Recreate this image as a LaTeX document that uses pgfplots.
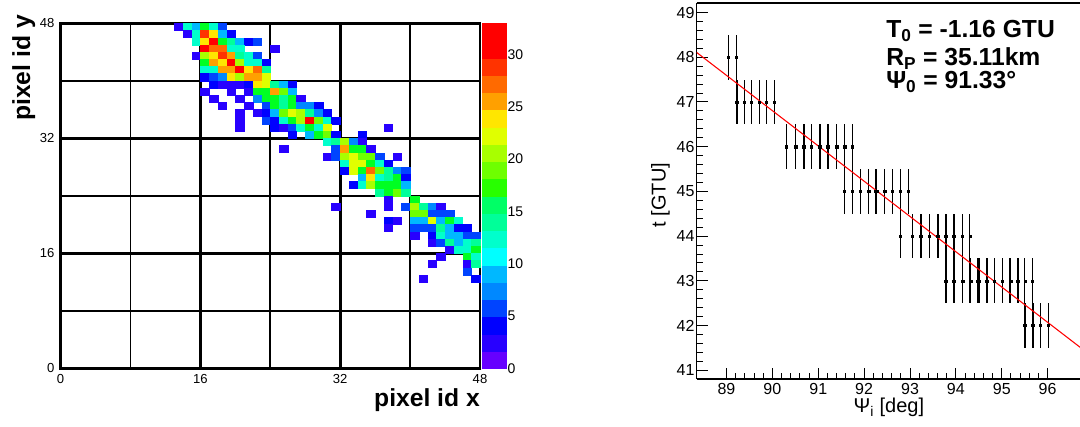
\documentclass[border=0pt]{standalone}
\usepackage{pgfplots}
\pgfplotsset{compat=1.18}
\usepackage{pgfplotstable}
\usepackage{fontspec}
\setmainfont{Liberation Sans}
\setsansfont{Liberation Sans}

\pgfplotsset{
  colormap={rootpal}{
    rgb255=(102,0,255) rgb255=(40,0,255) rgb255=(0,0,255) rgb255=(0,68,255)
    rgb255=(0,136,255) rgb255=(0,184,255) rgb255=(0,255,255) rgb255=(0,255,204)
    rgb255=(0,255,153) rgb255=(0,255,102) rgb255=(0,255,34) rgb255=(40,255,0)
    rgb255=(110,255,0) rgb255=(168,255,0) rgb255=(224,255,0) rgb255=(255,230,0)
    rgb255=(255,160,0) rgb255=(255,106,0) rgb255=(255,51,0) rgb255=(255,0,0)
    rgb255=(255,0,0)
  },
}

% pixel map: x y counts
\pgfplotstableread{
x y c
13.5 47.5 2
14.5 47.5 11
15.5 47.5 9
16.5 47.5 16
17.5 47.5 12
18.5 47.5 6
14.5 46.5 2
15.5 46.5 12
16.5 46.5 29
17.5 46.5 24
18.5 46.5 9
19.5 46.5 4
15.5 45.5 12
16.5 45.5 24
17.5 45.5 32
18.5 45.5 17
19.5 45.5 14
20.5 45.5 9
21.5 45.5 4
22.5 45.5 6
16.5 44.5 31
17.5 44.5 27
18.5 44.5 27
19.5 44.5 12
20.5 44.5 11
24.5 44.5 2
15.5 43.5 2
16.5 43.5 21
17.5 43.5 24
18.5 43.5 29
19.5 43.5 26
20.5 43.5 14
21.5 43.5 12
22.5 43.5 6
16.5 42.5 17
17.5 42.5 26
18.5 42.5 24
19.5 42.5 31
20.5 42.5 21
21.5 42.5 11
22.5 42.5 11
23.5 42.5 4
16.5 41.5 12
17.5 41.5 11
18.5 41.5 26
19.5 41.5 26
20.5 41.5 32
21.5 41.5 24
22.5 41.5 27
23.5 41.5 14
16.5 40.5 4
17.5 40.5 6
18.5 40.5 7
19.5 40.5 24
20.5 40.5 21
21.5 40.5 26
22.5 40.5 26
23.5 40.5 22
17.5 39.5 4
18.5 39.5 2
19.5 39.5 2
20.5 39.5 2
21.5 39.5 4
22.5 39.5 24
23.5 39.5 22
24.5 39.5 14
25.5 39.5 9
26.5 39.5 4
16.5 38.5 2
19.5 38.5 2
21.5 38.5 2
22.5 38.5 16
23.5 38.5 17
24.5 38.5 26
25.5 38.5 19
26.5 38.5 9
17.5 37.5 2
20.5 37.5 2
22.5 37.5 7
23.5 37.5 16
24.5 37.5 17
25.5 37.5 14
26.5 37.5 17
27.5 37.5 2
18.5 36.5 2
21.5 36.5 2
23.5 36.5 6
24.5 36.5 17
25.5 36.5 14
26.5 36.5 17
27.5 36.5 7
28.5 36.5 7
29.5 36.5 4
20.5 35.5 2
22.5 35.5 2
23.5 35.5 4
24.5 35.5 9
25.5 35.5 19
26.5 35.5 22
27.5 35.5 21
28.5 35.5 14
29.5 35.5 7
30.5 35.5 4
20.5 34.5 2
23.5 34.5 6
24.5 34.5 4
25.5 34.5 11
26.5 34.5 16
27.5 34.5 21
28.5 34.5 31
29.5 34.5 19
30.5 34.5 12
31.5 34.5 4
20.5 33.5 2
24.5 33.5 4
25.5 33.5 2
26.5 33.5 6
27.5 33.5 12
28.5 33.5 17
29.5 33.5 11
30.5 33.5 22
37.5 33.5 2
26.5 32.5 4
28.5 32.5 9
29.5 32.5 17
30.5 32.5 19
31.5 32.5 4
34.5 32.5 4
30.5 31.5 11
31.5 31.5 14
32.5 31.5 21
33.5 31.5 7
34.5 31.5 2
25.5 30.5 2
31.5 30.5 6
32.5 30.5 26
33.5 30.5 16
34.5 30.5 16
35.5 30.5 2
30.5 29.5 2
31.5 29.5 6
32.5 29.5 21
33.5 29.5 22
34.5 29.5 19
35.5 29.5 19
36.5 29.5 6
38.5 29.5 2
32.5 28.5 12
33.5 28.5 22
34.5 28.5 22
35.5 28.5 17
36.5 28.5 11
37.5 28.5 4
32.5 27.5 4
33.5 27.5 22
34.5 27.5 17
35.5 27.5 27
36.5 27.5 19
37.5 27.5 14
38.5 27.5 7
39.5 27.5 6
34.5 26.5 9
35.5 26.5 24
36.5 26.5 12
37.5 26.5 14
38.5 26.5 17
39.5 26.5 4
33.5 25.5 4
34.5 25.5 11
35.5 25.5 21
36.5 25.5 17
37.5 25.5 17
38.5 25.5 17
39.5 25.5 9
36.5 24.5 14
37.5 24.5 17
38.5 24.5 19
39.5 24.5 14
37.5 23.5 2
40.5 23.5 16
31.5 22.5 2
37.5 22.5 2
39.5 22.5 6
40.5 22.5 21
41.5 22.5 14
42.5 22.5 7
43.5 22.5 2
35.5 21.5 2
40.5 21.5 19
41.5 21.5 19
42.5 21.5 6
43.5 21.5 6
44.5 21.5 6
37.5 20.5 4
38.5 20.5 2
40.5 20.5 9
41.5 20.5 9
42.5 20.5 22
43.5 20.5 9
44.5 20.5 17
45.5 20.5 12
37.5 19.5 2
40.5 19.5 6
41.5 19.5 6
42.5 19.5 6
43.5 19.5 14
44.5 19.5 9
45.5 19.5 4
46.5 19.5 4
40.5 18.5 2
42.5 18.5 4
43.5 18.5 11
44.5 18.5 9
45.5 18.5 9
46.5 18.5 6
47.5 18.5 6
42.5 17.5 2
43.5 17.5 6
44.5 17.5 14
45.5 17.5 9
46.5 17.5 11
47.5 17.5 14
44.5 16.5 2
45.5 16.5 12
46.5 16.5 11
47.5 16.5 17
43.5 15.5 2
46.5 15.5 16
47.5 15.5 12
42.5 14.5 2
46.5 14.5 2
47.5 14.5 14
46.5 13.5 6
41.5 12.5 2
47.5 12.5 4
}\heat

% time vs angle points
\pgfplotstableread{
x y ey
89.047 48 0.5
89.213 48 0.5
89.213 47 0.5
89.231 47 0.5
89.387 47 0.5
89.548 47 0.5
89.708 47 0.5
89.716 47 0.5
89.867 47 0.5
90.041 47 0.5
90.311 46 0.5
90.492 46 0.5
90.510 46 0.5
90.673 46 0.5
90.691 46 0.5
90.847 46 0.5
90.855 46 0.5
91.031 46 0.5
91.039 46 0.5
91.205 46 0.5
91.213 46 0.5
91.386 46 0.5
91.404 46 0.5
91.560 46 0.5
91.578 46 0.5
91.735 46 0.5
91.560 45 0.5
91.568 45 0.5
91.735 45 0.5
91.909 45 0.5
91.917 45 0.5
92.083 45 0.5
92.101 45 0.5
92.240 45 0.5
92.258 45 0.5
92.276 45 0.5
92.432 45 0.5
92.450 45 0.5
92.612 45 0.5
92.620 45 0.5
92.787 45 0.5
92.970 45 0.5
92.781 44 0.5
92.789 44 0.5
93.058 44 0.5
93.232 44 0.5
93.250 44 0.5
93.413 44 0.5
93.421 44 0.5
93.594 44 0.5
93.612 44 0.5
93.777 44 0.5
93.795 44 0.5
93.951 44 0.5
93.969 44 0.5
94.132 44 0.5
94.140 44 0.5
94.306 44 0.5
93.777 43 0.5
93.785 43 0.5
93.951 43 0.5
93.969 43 0.5
94.132 43 0.5
94.150 43 0.5
94.306 43 0.5
94.324 43 0.5
94.469 43 0.5
94.487 43 0.5
94.505 43 0.5
94.662 43 0.5
94.680 43 0.5
94.836 43 0.5
94.844 43 0.5
95.010 43 0.5
95.018 43 0.5
95.178 43 0.5
95.196 43 0.5
95.346 43 0.5
95.354 43 0.5
95.505 43 0.5
95.664 43 0.5
95.490 42 0.5
95.508 42 0.5
95.664 42 0.5
95.682 42 0.5
95.839 42 0.5
95.847 42 0.5
96.022 42 0.5
}\psidata

\begin{document}
\begin{tikzpicture}
\useasboundingbox (0,0) rectangle (810pt,319.5pt);

% ---------------- left: pixel map ----------------
\begin{axis}[
  at={(45.4pt,43.35pt)}, anchor=south west,
  scale only axis, width=314.6pt, height=258.75pt,
  xmin=0, xmax=48, ymin=0, ymax=48,
  clip=false,
  xtick={0,8,...,48}, ytick={0,8,...,48},
  xticklabels={0,,16,,32,,48}, yticklabels={0,,16,,32,,48},
  major tick length=0pt,
  axis line style={draw=none},
  /pgf/number format/assume math mode=true,
  tick label style={font=\fontsize{9.8}{11}\selectfont},
  xticklabel style={yshift=-1pt},
  yticklabel style={xshift=-1pt},
  xlabel={pixel id x}, ylabel={pixel id y},
  xlabel style={at={(axis description cs:1,0)}, anchor=north east, inner sep=0pt, yshift=-14.8pt, font=\fontsize{18.5}{20}\selectfont\bfseries},
  ylabel style={at={(axis description cs:-0.1157,1.024)}, rotate=0, anchor=north east, inner sep=0pt, font=\fontsize{18.5}{20}\selectfont\bfseries},
  colormap name=rootpal, colormap access=piecewise constant,
  point meta min=0, point meta max=33,
]
\addplot[scatter, only marks, mark=square*, mark size=3.2pt,
  point meta=explicit,
  mark options={yscale=0.8225, line width=0.15pt},
  scatter/use mapped color={draw=mapped color, fill=mapped color}]
  table[x=x, y=y, meta=c] {\heat};
% pixel grid (MAPMT and EC boundaries)
\draw[black, line width=1.2pt] (axis cs:8,0) -- (axis cs:8,48);
\draw[black, line width=1.2pt] (axis cs:24,0) -- (axis cs:24,48);
\draw[black, line width=1.2pt] (axis cs:40,0) -- (axis cs:40,48);
\draw[black, line width=1.2pt] (axis cs:0,8) -- (axis cs:48,8);
\draw[black, line width=1.2pt] (axis cs:0,24) -- (axis cs:48,24);
\draw[black, line width=1.2pt] (axis cs:0,40) -- (axis cs:48,40);
\draw[black, line width=2.1pt] (axis cs:16,0) -- (axis cs:16,48);
\draw[black, line width=2.1pt] (axis cs:32,0) -- (axis cs:32,48);
\draw[black, line width=2.1pt] (axis cs:0,16) -- (axis cs:48,16);
\draw[black, line width=2.1pt] (axis cs:0,32) -- (axis cs:48,32);
\draw[black, line width=2.1pt] (axis cs:0,0) rectangle (axis cs:48,48);
\end{axis}

% ---------------- colour scale ----------------
\begin{axis}[
  at={(361.3pt,43.35pt)}, anchor=south west,
  scale only axis, width=18.2pt, height=258.75pt,
  xmin=0, xmax=1, ymin=0, ymax=33,
  hide x axis, axis y line*=right,
  axis line style={draw=none},
  ytick={0,5,...,30},
  tick align=inside, major tick length=8pt,
  major tick style={black, line width=0.8pt},
  axis on top,
  /pgf/number format/assume math mode=true,
  yticklabel style={font=\fontsize{10.5}{12}\selectfont, inner xsep=1pt},
  colormap name=rootpal, colormap access=piecewise constant,
  point meta min=0, point meta max=33,
]
\addplot[scatter, only marks, mark=square*, mark size=9.1pt,
  point meta=y,
  mark options={yscale=0.7108, line width=0.15pt},
  scatter/use mapped color={draw=mapped color, fill=mapped color}]
  coordinates {(0.5,0.825) (0.5,2.475) (0.5,4.125) (0.5,5.775) (0.5,7.425)
  (0.5,9.075) (0.5,10.725) (0.5,12.375) (0.5,14.025) (0.5,15.675)
  (0.5,17.325) (0.5,18.975) (0.5,20.625) (0.5,22.275) (0.5,23.925)
  (0.5,25.575) (0.5,27.225) (0.5,28.875) (0.5,30.525) (0.5,32.175)};
\end{axis}

% ---------------- right: time vs angle ----------------
\begin{axis}[
  at={(522.5pt,35.25pt)}, anchor=south west,
  scale only axis, width=288.2pt, height=282.2pt,
  xmin=88.350, xmax=96.726, ymin=40.805, ymax=49.22,
  xtick={89,...,96}, ytick={41,...,49},
  minor x tick num=4, minor y tick num=4,
  tick align=inside, tick pos=left,
  major tick length=8.5pt, minor tick length=4.5pt,
  separate axis lines,
  axis line style={line width=1.2pt},
  tick style={black, line width=0.75pt},
  /pgf/number format/assume math mode=true,
  tick label style={font=\fontsize{12}{14}\selectfont},
  yticklabel style={inner xsep=1.5pt},
  xlabel={Ψ\textsubscript{i} [deg]}, ylabel={t [GTU]},
  xlabel style={at={(axis description cs:0.5,0)}, anchor=north, inner sep=0pt, yshift=-14.2pt, font=\fontsize{15}{17}\selectfont},
  ylabel style={at={(axis description cs:-0.0695,0.489)}, anchor=south, inner sep=0pt, font=\fontsize{15}{17}\selectfont},
]
\addplot[black, only marks, mark=square*, mark size=0.8pt,
  error bars/.cd, y dir=both, y explicit,
  error bar style={black, line width=0.65pt}, error mark=none]
  table[x=x, y=y, y error=ey] {\psidata};
\addplot[red, line width=0.8pt] coordinates {(88.350,48.108) (96.726,41.500)};
\end{axis}

\node[anchor=base west, inner sep=0pt, font=\fontsize{18.5}{20}\selectfont\bfseries] at (664.5pt,291.2pt) {T\textsubscript{0} = -1.16 GTU};
\node[anchor=base west, inner sep=0pt, font=\fontsize{18.5}{20}\selectfont\bfseries] at (664.5pt,270.7pt) {R\textsubscript{P} = 35.11km};
\node[anchor=base west, inner sep=0pt, font=\fontsize{18.5}{20}\selectfont\bfseries] at (664.5pt,253.3pt) {Ψ\textsubscript{0} = 91.33°};
\end{tikzpicture}
\end{document}
